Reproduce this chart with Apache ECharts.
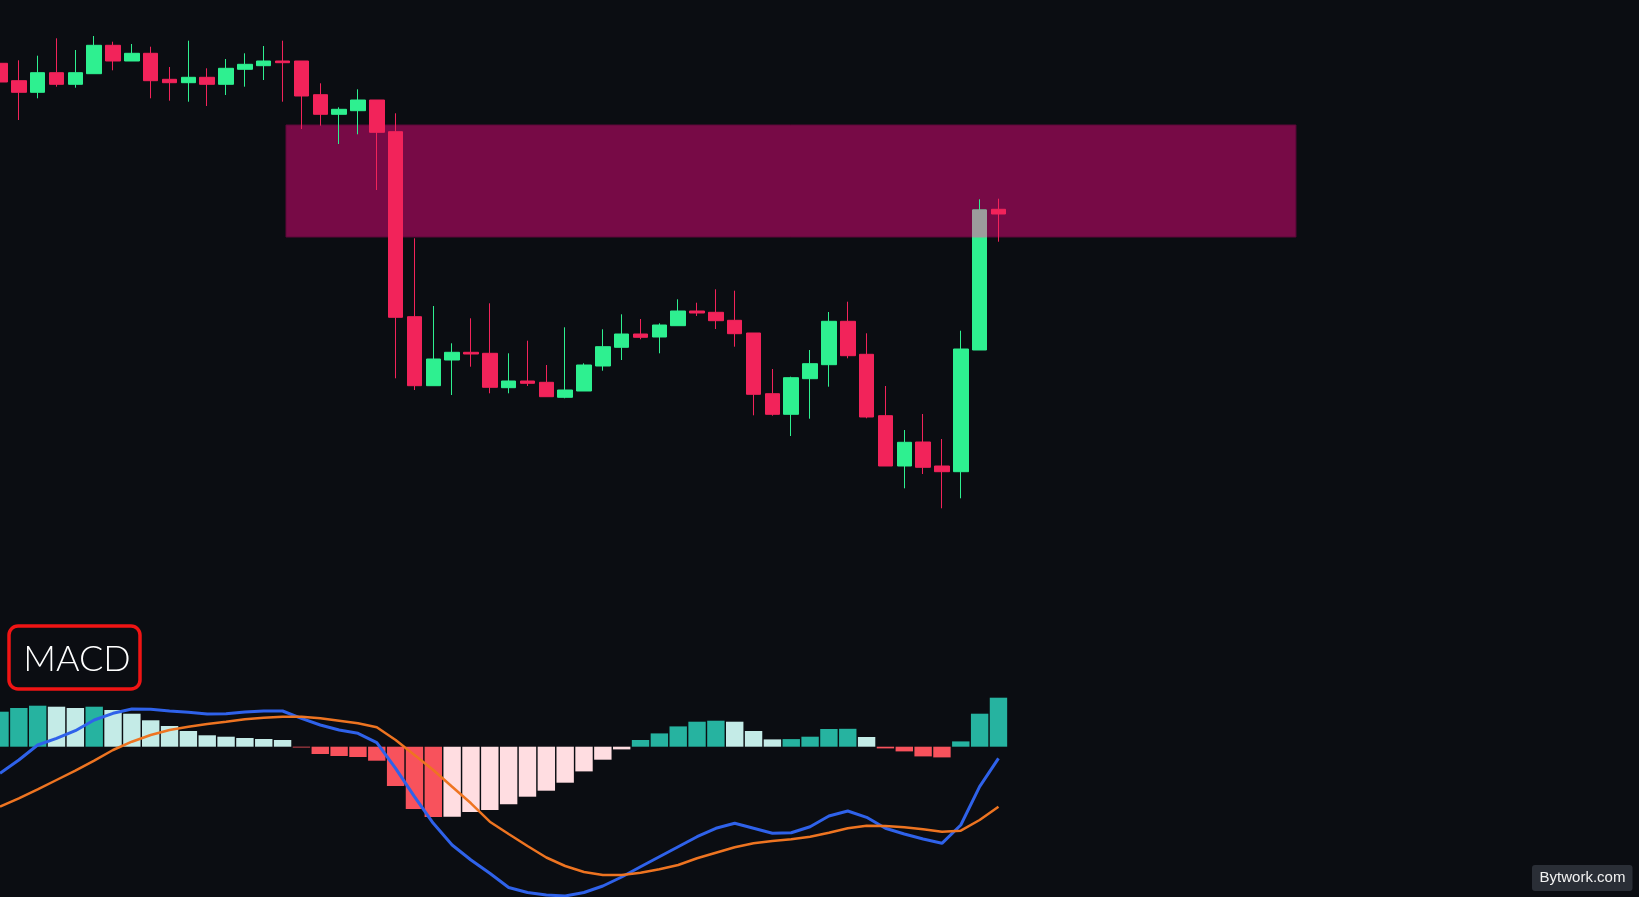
<!DOCTYPE html>
<html><head><meta charset="utf-8">
<style>html,body{margin:0;padding:0;background:#0b0d12;overflow:hidden;}#c{width:1639px;height:897px;}</style>
<script src="https://cdn.jsdelivr.net/npm/echarts@6/dist/echarts.min.js"></script>
</head><body><div id="c"></div>
<script>
// ---- data ----
const slotCount = 88; // visible time slots (54 bars + empty space on the right)
const categories = Array.from({length: slotCount}, (_, i) => String(i));

const candleOpen  = [836.7,819.3,807.7,827.3,815.7,826.3,854.7,839,846.7,820.7,817.3,822.7,815.7,830.7,834.3,839,839,805.3,785.7,789.3,800,768.3,583.3,514.3,540,547.7,546.7,512.3,519,517.7,502.7,509,534,552.7,566,563,574.3,589,587.7,579.7,567,506.3,485.7,521.3,535.3,578.7,545.7,484.3,434,458,434,428.3,550,690.7];
const candleClose = [818,807.7,827.3,815.7,827.3,854.7,839,846.7,819.3,817.3,822.7,815.7,831.7,835.7,839,837.3,804,785.7,790.7,800,767.7,582.7,514.3,541,547.7,546,512.7,519,516.7,503.3,510,535,553.3,566,562.7,575,589,587,579.3,566.3,505.7,485.7,522.3,536.3,578.7,544.3,483,434,457.7,432.7,428.3,551,690,686];
const candleLow   = [818,780,801.7,813.3,812.3,826.3,829.7,839,801.7,799.3,798.3,794,805,813.3,820,798.3,771,774.3,756,765.7,710,521.7,510,514.3,505,533.3,506.7,506.7,514,503.3,501.7,509,529.3,540,560.7,546.7,574.3,584,571,553.3,484.7,484.3,464,481.3,513.3,541.7,481.7,434,411.7,426,391.7,401.7,550,658.3];
const candleHigh  = [905,839.7,844.3,861.7,850,864,858.3,856,853.3,833,859.3,831.7,841,846.7,854,859.3,839,816.7,792.7,810.7,800,786.7,661.7,594,556.7,581.7,596.7,546.7,559.3,535,572.7,536.7,570.7,585.7,581,576.7,600.7,597.3,610.7,609.3,567,531,523.3,550,588,598.3,566.7,514,470,486,461,569.3,700.7,701.3];

const zoneStart = 15.18, zoneEnd = 68.79, zoneLow = 663, zoneHigh = 775;
const highlightBar = 52;

const macdHist = [35,38.7,41,40,38.7,40,36.7,33,26.4,20.7,15.7,11.4,10,8.7,7.7,6.7,-0.8,-7.3,-9.3,-10.3,-14,-39.3,-62.3,-70.3,-70,-65.3,-63.3,-57.5,-50,-44,-36,-24.7,-13,-2.7,6.7,13.3,20.3,25,26,25,15.7,7.3,7.6,10,17.7,17.9,9.7,-1.7,-4.7,-9.7,-10.7,5.3,33,49];
const macdLine = [-26.6,-13.3,1.7,8.4,16,26.7,33.4,37.7,37.4,35.7,34.4,32.7,33,34.7,35.7,35.7,28.4,21.7,16.7,13.4,4,-21.6,-50,-76.6,-98.3,-113.3,-126.6,-140.8,-145.8,-148.3,-149.3,-145.8,-139.3,-130.3,-120,-110,-100,-90,-81.6,-76.6,-81.6,-86.6,-86,-80,-69.3,-64.3,-70.6,-81.6,-87.3,-92.3,-96.6,-78.3,-40,-11.6];
const signalLine = [-60,-51.6,-42.6,-33.3,-24,-14,-3.3,5,11.7,16.7,20,22.7,25,27.4,29,30,30,28.4,26,23.4,19.4,6.7,-8.3,-23.3,-40,-56.6,-75,-87.3,-99.3,-110.8,-119.3,-125.3,-128.3,-128.3,-126,-122.6,-118.3,-111.6,-106,-100.6,-96.6,-94.3,-92.6,-90,-86,-81.6,-79,-79.3,-80.6,-82.6,-85,-84,-73.3,-60];

// ---- build ----
const candles = candleOpen.map((o, i) => [o, candleClose[i], candleLow[i], candleHigh[i]]);
const overlay = candleOpen.map((o, i) => i === highlightBar ? [zoneLow, candleClose[i], zoneLow, candleClose[i]] : '-');

const C_UP_GROW = '#26b3a0', C_UP_FALL = '#c4ebe7', C_DN_GROW = '#ffdde1', C_DN_FALL = '#f8525c';
const histData = macdHist.map((v, i) => {
  const prev = i > 0 ? macdHist[i - 1] : -Infinity;
  let c;
  if (v >= 0) c = v >= prev ? C_UP_GROW : C_UP_FALL;
  else c = v >= prev ? C_DN_GROW : C_DN_FALL;
  return {value: v, itemStyle: {color: c}};
});

const BAND = 18.84;
const gridWidth = BAND * (slotCount - 1);

const chart = echarts.init(document.getElementById('c'), null, {renderer: 'canvas'});
chart.setOption({
  backgroundColor: '#0b0d12',
  animation: false,
  grid: [
    {left: 0, top: 0, width: gridWidth, height: 897},
    {left: 0, top: 0, width: gridWidth, height: 897}
  ],
  xAxis: [
    {type: 'category', data: categories, gridIndex: 0, boundaryGap: false, show: false},
    {type: 'value', gridIndex: 0, min: 0, max: slotCount - 1, show: false},
    {type: 'category', data: categories, gridIndex: 1, boundaryGap: false, show: false}
  ],
  yAxis: [
    {type: 'value', gridIndex: 0, min: 3, max: 900, show: false},
    {type: 'value', gridIndex: 1, min: -150.3, max: 746.7, show: false}
  ],
  series: [
    {
      type: 'custom', xAxisIndex: 1, yAxisIndex: 0, z: 1, silent: true,
      data: [[zoneStart, zoneEnd, zoneLow, zoneHigh]],
      renderItem: (params, api) => {
        const p0 = api.coord([api.value(0), api.value(3)]);
        const p1 = api.coord([api.value(1), api.value(2)]);
        return {type: 'rect', shape: {x: p0[0], y: p0[1], width: p1[0] - p0[0], height: p1[1] - p0[1]},
                style: {fill: '#770a46', stroke: '#5c0838', lineWidth: 1}};
      }
    },
    {
      type: 'candlestick', xAxisIndex: 0, yAxisIndex: 0, z: 3, barWidth: 15, data: candles,
      itemStyle: {color: '#2ef090', color0: '#f2235a', borderColor: '#2ef090', borderColor0: '#f2235a', borderWidth: 1}
    },
    {
      type: 'candlestick', xAxisIndex: 0, yAxisIndex: 0, z: 4, barWidth: 15, data: overlay,
      itemStyle: {color: '#9c9c9c', color0: '#9c9c9c', borderColor: '#9c9c9c', borderColor0: '#9c9c9c', borderWidth: 1}
    },
    {
      type: 'bar', xAxisIndex: 2, yAxisIndex: 1, z: 2, barWidth: 17.4, data: histData
    },
    {
      type: 'line', xAxisIndex: 2, yAxisIndex: 1, z: 4, data: macdLine, symbol: 'none',
      lineStyle: {color: '#2f62ea', width: 3}
    },
    {
      type: 'line', xAxisIndex: 2, yAxisIndex: 1, z: 5, data: signalLine, symbol: 'none',
      lineStyle: {color: '#ee7421', width: 2.5}
    }
  ],
  graphic: [
    {type: 'rect', z: 100, shape: {x: 9, y: 626, width: 131, height: 63, r: 9},
     style: {fill: 'rgba(0,0,0,0)', stroke: '#f01414', lineWidth: 3.5}},
    {type: 'text', z: 101, x: 77, y: 659,
     style: {text: 'MACD', fill: '#ffffff', font: '300 36px Lato', align: 'center', verticalAlign: 'middle', textAlign: 'center', textVerticalAlign: 'middle'}},
    {type: 'rect', z: 100, shape: {x: 1532, y: 865, width: 100.5, height: 26, r: 3}, style: {fill: '#2a2e36'}},
    {type: 'text', z: 101, x: 1582.5, y: 878,
     style: {text: 'Bytwork.com', fill: '#f2f2f2', font: '15px "Liberation Sans", Arial, sans-serif', align: 'center', verticalAlign: 'middle', textAlign: 'center', textVerticalAlign: 'middle'}}
  ]
});
</script>
</body></html>
